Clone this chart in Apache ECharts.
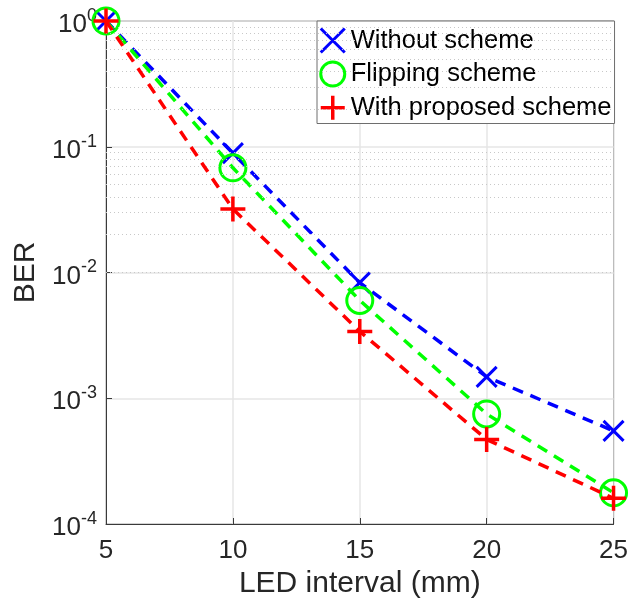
<!DOCTYPE html>
<html>
<head>
<meta charset="utf-8">
<script src="https://cdn.jsdelivr.net/npm/echarts@6/dist/echarts.min.js"></script>
<style>
html,body{margin:0;padding:0;background:#fff;}
#chart{width:631px;height:607px;}
</style>
</head>
<body>
<div id="chart"></div>
<script>
// ---- data ----
const ledInterval = [5, 10, 15, 20, 25];
const withoutScheme = [1, 0.089, 0.0083, 0.00148, 0.00055];
const flippingScheme = [1, 0.068, 0.006, 0.00075, 0.000177];
const proposedScheme = [1, 0.032, 0.0034, 0.00047, 0.00016];
const seriesNames = ['Without scheme', 'Flipping scheme', 'With proposed scheme'];
const xTicks = [5, 10, 15, 20, 25];
const minorGridValues = [
  2e-4, 3e-4, 4e-4, 5e-4, 6e-4, 7e-4, 8e-4, 9e-4,
  2e-3, 3e-3, 4e-3, 5e-3, 6e-3, 7e-3, 8e-3, 9e-3,
  2e-2, 3e-2, 4e-2, 5e-2, 6e-2, 7e-2, 8e-2, 9e-2,
  2e-1, 3e-1, 4e-1, 5e-1, 6e-1, 7e-1, 8e-1, 9e-1
];

const FONT = 'Liberation Sans, Arial, Helvetica, sans-serif';
const TXT = '#262626';
const X_PATH = 'path://M0,0L20,20M20,0L0,20';
const PLUS_PATH = 'path://M10,0L10,20M0,10L20,10';

const pairs = arr => ledInterval.map((x, i) => [x, arr[i]]);

const chart = echarts.init(document.getElementById('chart'), null, {renderer: 'canvas'});

const option = {
  animation: false,
  backgroundColor: '#ffffff',
  textStyle: {fontFamily: FONT},
  grid: {
    left: 106, right: 15, top: 21, bottom: 83,
    show: true, borderColor: '#3a3a3a', borderWidth: 1, backgroundColor: 'transparent'
  },
  legend: {
    orient: 'vertical',
    left: 317, top: 21,
    padding: [6, 3, 2, 2],
    itemWidth: 26, itemHeight: 24, itemGap: 6.5,
    backgroundColor: '#ffffff',
    borderColor: '#6e6e6e', borderWidth: 1,
    textStyle: {fontFamily: FONT, fontSize: 25.5, lineHeight: 26, color: '#000'},
    data: [
      {name: seriesNames[0], icon: X_PATH, itemStyle: {color: '#0000ff', borderColor: '#0000ff', borderWidth: 3}},
      {name: seriesNames[1], icon: 'circle', itemStyle: {color: 'rgba(0,0,0,0)', borderColor: '#00ff00', borderWidth: 3}},
      {name: seriesNames[2], icon: PLUS_PATH, itemStyle: {color: '#ff0000', borderColor: '#ff0000', borderWidth: 3.5}}
    ]
  },
  xAxis: {
    type: 'value', min: 5, max: 25, interval: 5,
    name: 'LED interval (mm)', nameLocation: 'middle', nameGap: 42,
    nameTextStyle: {fontFamily: FONT, fontSize: 30, color: TXT},
    axisLine: {show: true, lineStyle: {color: '#3a3a3a', width: 1}},
    axisTick: {show: true, inside: true, length: 6, lineStyle: {color: '#3a3a3a'}},
    axisLabel: {fontFamily: FONT, fontSize: 26, color: TXT, margin: 14,
      formatter: v => (xTicks.indexOf(v) >= 0 ? String(v) : '')},
    splitLine: {show: true, lineStyle: {color: '#e6e6e6', width: 1.5}}
  },
  yAxis: {
    type: 'log', logBase: 10, min: 1e-4, max: 1,
    name: 'BER', nameLocation: 'middle', nameGap: 64, nameRotate: 90,
    nameTextStyle: {fontFamily: FONT, fontSize: 30, color: TXT},
    axisLine: {show: true, lineStyle: {color: '#3a3a3a', width: 1}},
    axisTick: {show: true, inside: true, length: 6, lineStyle: {color: '#3a3a3a'}},
    axisLabel: {
      margin: 9,
      padding: [8, 0, 0, 0],
      formatter: v => '{b|10}{s|' + Math.round(Math.log10(v)) + '}',
      rich: {
        b: {fontFamily: FONT, fontSize: 26, color: TXT, lineHeight: 36},
        s: {fontFamily: FONT, fontSize: 18, color: TXT, lineHeight: 18, verticalAlign: 'top'}
      }
    },
    splitLine: {show: true, lineStyle: {color: '#e6e6e6', width: 1.5}}
  },
  series: [
    {
      name: '_minorGrid', type: 'line', data: [[5, 1]], showSymbol: false, silent: true,
      lineStyle: {opacity: 0}, z: 1,
      markLine: {
        silent: true, symbol: 'none', animation: false,
        label: {show: false},
        lineStyle: {type: [1, 3], color: '#c8c8c8', width: 1},
        data: minorGridValues.map(v => ({yAxis: v}))
      }
    },
    {
      name: seriesNames[0], type: 'line', data: pairs(withoutScheme), z: 3,
      symbol: X_PATH, symbolSize: 20,
      lineStyle: {color: '#0000ff', width: 3.5, type: [11, 8]},
      itemStyle: {color: '#0000ff', borderColor: '#0000ff', borderWidth: 3}
    },
    {
      name: seriesNames[1], type: 'line', data: pairs(flippingScheme), z: 4,
      symbol: 'circle', symbolSize: 26,
      lineStyle: {color: '#00ff00', width: 3.5, type: [11, 8]},
      itemStyle: {color: 'rgba(0,0,0,0)', borderColor: '#00ff00', borderWidth: 3}
    },
    {
      name: seriesNames[2], type: 'line', data: pairs(proposedScheme), z: 5,
      symbol: PLUS_PATH, symbolSize: 25,
      lineStyle: {color: '#ff0000', width: 3.5, type: [11, 8]},
      itemStyle: {color: '#ff0000', borderColor: '#ff0000', borderWidth: 3.5}
    }
  ]
};
chart.setOption(option);
</script>
</body>
</html>
